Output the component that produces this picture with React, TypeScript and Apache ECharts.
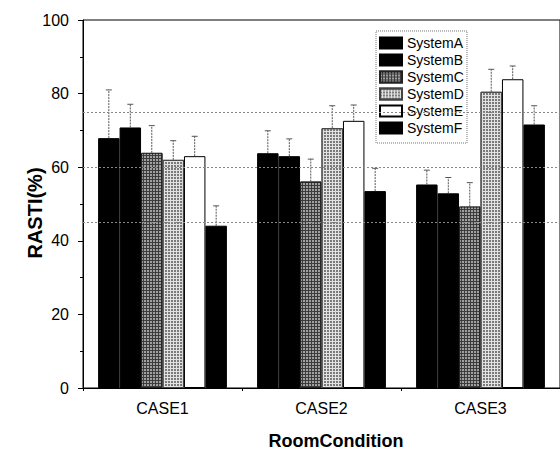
import React, { useEffect, useRef } from "react";
import * as echarts from "echarts";

const categories = ["CASE1", "CASE2", "CASE3"];
const systemNames = ["SystemA", "SystemB", "SystemC", "SystemD", "SystemE", "SystemF"];
const systemA = [67.9, 63.8, 55.3];
const systemB = [70.8, 63.0, 52.9];
const systemC = [63.9, 56.1, 49.3];
const systemD = [62.0, 70.6, 80.5];
const systemE = [63.0, 72.6, 83.9];
const systemF = [44.1, 53.5, 71.6];
const errA = [13.1, 6.1, 3.9];
const errB = [6.3, 4.7, 4.3];
const errC = [7.4, 6.1, 6.5];
const errD = [5.2, 6.1, 6.1];
const errE = [5.4, 4.3, 3.6];
const errF = [5.4, 6.2, 5.1];
const refLines = [45, 60, 75];
const yTicks = [0, 20, 40, 60, 80, 100];

const values = [systemA, systemB, systemC, systemD, systemE, systemF];
const errors = [errA, errB, errC, errD, errE, errF];

const FONT = "'Liberation Sans', Arial, Helvetica, sans-serif";
const CAT_GAP = 0.19;

const styles: any[] = [
  { color: "#000", borderColor: "#000", borderWidth: 1 },
  { color: "#000", borderColor: "#000", borderWidth: 1 },
  {
    color: "#3c3c3c",
    borderColor: "#222",
    borderWidth: 1,
    decal: { symbol: "rect", symbolSize: 1, color: "#a0a0a0", dashArrayX: [2, 1], dashArrayY: [2, 1], rotation: 0 },
  },
  {
    color: "#e2e2e2",
    borderColor: "#444",
    borderWidth: 1,
    decal: { symbol: "rect", symbolSize: 1, color: "#7a7a7a", dashArrayX: [2, 1], dashArrayY: [2, 1], rotation: 0 },
  },
  { color: "#fff", borderColor: "#000", borderWidth: 1 },
  { color: "#000", borderColor: "#000", borderWidth: 1 },
];

export default function App() {
  const ref = useRef<HTMLDivElement>(null);
  useEffect(() => {
    document.body.style.margin = "0";
    if (!ref.current) return;
    const chart = echarts.init(ref.current, null, { renderer: "svg" });

    const barSeries = systemNames.map((name, i) => ({
      name,
      type: "bar",
      data: values[i],
      barGap: "0%",
      barCategoryGap: "19%",
      itemStyle: styles[i],
      z: 2,
      ...(i === 0
        ? {
            markLine: {
              silent: true,
              symbol: "none",
              label: { show: false },
              lineStyle: { type: [2, 2], color: "#888", width: 1 },
              data: refLines.map((v) => ({ yAxis: v })),
              z: 5,
            },
          }
        : {}),
    }));

    const errSeries = systemNames.map((name, i) => ({
      name: name + "_err",
      type: "custom",
      z: 4,
      silent: true,
      data: categories.map((c, j) => [j, values[i][j], errors[i][j]]),
      encode: { x: 0, y: 1 },
      renderItem: (params: any, api: any) => {
        const ci = api.value(0);
        const v = api.value(1);
        const e = api.value(2);
        const band = api.size([1, 0])[0];
        const bw = (band * (1 - CAT_GAP)) / 6;
        const base = api.coord([ci, v]);
        const top = api.coord([ci, v + e]);
        const x = base[0] - (band * (1 - CAT_GAP)) / 2 + (i + 0.5) * bw;
        const style = { stroke: "#555", lineWidth: 1, lineDash: [2, 1] };
        return {
          type: "group",
          children: [
            { type: "line", shape: { x1: x, y1: base[1], x2: x, y2: top[1] }, style },
            { type: "line", shape: { x1: x - 3, y1: top[1], x2: x + 3, y2: top[1] }, style: { stroke: "#555", lineWidth: 1 } },
          ],
        };
      },
    }));

    chart.setOption({
      animation: false,
      textStyle: { fontFamily: FONT },
      grid: { left: 83, top: 20, right: -5, bottom: 65, show: true, borderColor: "#000", borderWidth: 1 },
      legend: {
        data: systemNames,
        orient: "vertical",
        left: 379,
        top: 36,
        icon: "rect",
        itemWidth: 22,
        itemHeight: 11,
        itemGap: 3,
        padding: 0,
        textStyle: { fontSize: 14, color: "#000", fontFamily: FONT },
      },
      xAxis: [
        {
          type: "category",
          data: categories,
          axisLine: { lineStyle: { color: "#000" } },
          axisTick: { alignWithLabel: true, length: 6, lineStyle: { color: "#000" } },
          axisLabel: { fontSize: 16, color: "#000", margin: 12, fontFamily: FONT },
        },
        {
          type: "category",
          data: categories,
          position: "bottom",
          axisLine: { show: false },
          axisTick: { show: true, length: 3, lineStyle: { color: "#000" } },
          axisLabel: { show: false },
        },
      ],
      yAxis: {
        type: "value",
        min: yTicks[0],
        max: yTicks[yTicks.length - 1],
        interval: 20,
        axisLine: { show: true, lineStyle: { color: "#000" } },
        axisTick: { show: true, length: 5, lineStyle: { color: "#000" } },
        minorTick: { show: true, splitNumber: 2, length: 3, lineStyle: { color: "#000" } },
        splitLine: { show: false },
        axisLabel: { fontSize: 16, color: "#000", margin: 14, fontFamily: FONT },
      },
      graphic: [
        {
          type: "rect",
          shape: { x: 376, y: 31, width: 91, height: 112 },
          style: { fill: "rgba(0,0,0,0)", stroke: "#777", lineWidth: 1, lineDash: [1, 1] },
          z: 10,
        },
        {
          type: "text",
          x: 35,
          y: 213,
          rotation: Math.PI / 2,
          style: { text: "RASTI(%)", font: "bold 20px " + FONT, fill: "#000", align: "center", verticalAlign: "middle" },
        },
        {
          type: "text",
          x: 336,
          y: 441,
          style: { text: "RoomCondition", font: "bold 18px " + FONT, fill: "#000", align: "center", verticalAlign: "middle" },
        },
      ],
      series: [...barSeries, ...errSeries],
    });
    return () => chart.dispose();
  }, []);
  return <div ref={ref} style={{ width: 560, height: 453 }} />;
}
